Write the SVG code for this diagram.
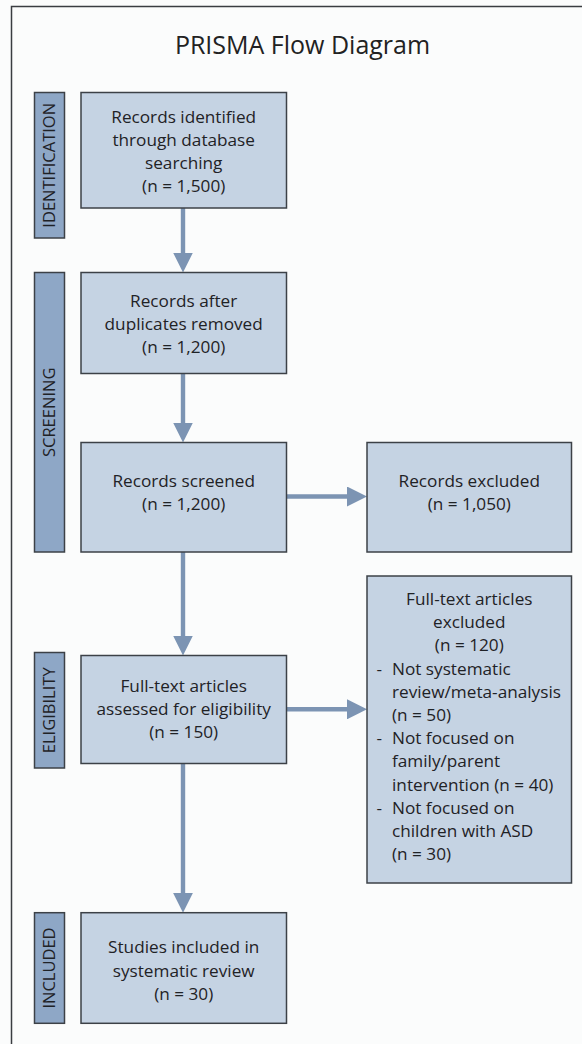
<svg xmlns="http://www.w3.org/2000/svg" width="582" height="1044" viewBox="0 0 582 1044">
<style>
.bg{fill:#fbfcfc}
.frame{stroke:#3a3d41;stroke-width:1.5;fill:none}
.box{fill:#c5d3e3;stroke:#3c4147;stroke-width:1.5}
.bar{fill:#8ea7c6;stroke:#3c4147;stroke-width:1.5}
.t{font-family:"Open Sans","Liberation Sans",sans-serif;font-size:17.2px;fill:#1f2226;text-anchor:middle}
.tl{font-family:"Open Sans","Liberation Sans",sans-serif;font-size:17.2px;fill:#1f2226}
.bt{font-family:"Open Sans","Liberation Sans",sans-serif;font-size:16.5px;fill:#1f2226;text-anchor:middle}
.title{font-family:"Open Sans","Liberation Sans",sans-serif;font-size:25px;fill:#222;text-anchor:middle}
.arr{stroke:#7c94b3;stroke-width:4.4;fill:none;marker-end:url(#ah)}
</style>
<defs>
<marker id="ah" viewBox="0 0 20 20" markerWidth="20" markerHeight="20" refX="1" refY="10" orient="auto" markerUnits="userSpaceOnUse">
<path d="M0,0 L20,10 L0,20 z" fill="#7c94b3"/>
</marker>
</defs>
<rect class="bg" x="0" y="0" width="582" height="1044"/>
<path class="frame" d="M11.5,1044 V6.5 H582"/>
<text class="title" x="302.5" y="54">PRISMA Flow Diagram</text>

<g id="connectors">
<line class="arr" x1="183" y1="208" x2="183" y2="253.5"/>
<line class="arr" x1="183" y1="373.5" x2="183" y2="423.5"/>
<line class="arr" x1="183" y1="552" x2="183" y2="636.5"/>
<line class="arr" x1="183" y1="763.5" x2="183" y2="893.7"/>
<line class="arr" x1="286.5" y1="496.5" x2="348" y2="496.5"/>
<line class="arr" x1="286.5" y1="709.3" x2="348" y2="709.3"/>
</g>

<g id="stage-identification">
<rect class="bar" x="34.5" y="92.5" width="30" height="145.5"/>
<text class="bt" transform="translate(55,165.3) rotate(-90)">IDENTIFICATION</text>
</g>
<g id="stage-screening">
<rect class="bar" x="34.5" y="272.5" width="30" height="279.5"/>
<text class="bt" transform="translate(55,412.3) rotate(-90)">SCREENING</text>
</g>
<g id="stage-eligibility">
<rect class="bar" x="34.5" y="652.5" width="30" height="115.5"/>
<text class="bt" transform="translate(55,710.3) rotate(-90)">ELIGIBILITY</text>
</g>
<g id="stage-included">
<rect class="bar" x="34.5" y="912.7" width="30" height="110.6"/>
<text class="bt" transform="translate(55,968) rotate(-90)">INCLUDED</text>
</g>

<g id="identified">
<rect class="box" x="81" y="92.5" width="205.5" height="115.5"/>
<text class="t" x="183.7" y="123">Records identified</text>
<text class="t" x="183.7" y="146">through database</text>
<text class="t" x="183.7" y="169">searching</text>
<text class="t" x="183.7" y="192">(n = 1,500)</text>
</g>
<g id="deduplicated">
<rect class="box" x="81" y="272.5" width="205.5" height="101"/>
<text class="t" x="183.7" y="306.5">Records after</text>
<text class="t" x="183.7" y="329.5">duplicates removed</text>
<text class="t" x="183.7" y="352.5">(n = 1,200)</text>
</g>
<g id="screened">
<rect class="box" x="81" y="442.5" width="205.5" height="109.5"/>
<text class="t" x="183.7" y="486.5">Records screened</text>
<text class="t" x="183.7" y="509.5">(n = 1,200)</text>
</g>
<g id="excluded">
<rect class="box" x="367" y="442.5" width="204.5" height="109.5"/>
<text class="t" x="469.3" y="486.5">Records excluded</text>
<text class="t" x="469.3" y="509.5">(n = 1,050)</text>
</g>
<g id="fulltext">
<rect class="box" x="81" y="655.5" width="205.5" height="108"/>
<text class="t" x="183.7" y="691.5">Full-text articles</text>
<text class="t" x="183.7" y="714.8">assessed for eligibility</text>
<text class="t" x="183.7" y="738">(n = 150)</text>
</g>
<g id="fulltext-excluded">
<rect class="box" x="367" y="576" width="204.5" height="307"/>
<text class="t" x="469.3" y="605">Full-text articles</text>
<text class="t" x="469.3" y="628.2">excluded</text>
<text class="t" x="469.3" y="651.4">(n = 120)</text>
<text class="tl" x="376.5" y="674.6">-</text>
<text class="tl" x="392" y="674.6">Not systematic</text>
<text class="tl" x="392" y="697.8">review/meta-analysis</text>
<text class="tl" x="392" y="721">(n = 50)</text>
<text class="tl" x="376.5" y="744.2">-</text>
<text class="tl" x="392" y="744.2">Not focused on</text>
<text class="tl" x="392" y="767.4">family/parent</text>
<text class="tl" x="392" y="790.6">intervention (n = 40)</text>
<text class="tl" x="376.5" y="813.8">-</text>
<text class="tl" x="392" y="813.8">Not focused on</text>
<text class="tl" x="392" y="837">children with ASD</text>
<text class="tl" x="392" y="860.2">(n = 30)</text>
</g>
<g id="included">
<rect class="box" x="81" y="912.7" width="205.5" height="110.6"/>
<text class="t" x="183.7" y="953.3">Studies included in</text>
<text class="t" x="183.7" y="976.6">systematic review</text>
<text class="t" x="183.7" y="999.9">(n = 30)</text>
</g>
</svg>
